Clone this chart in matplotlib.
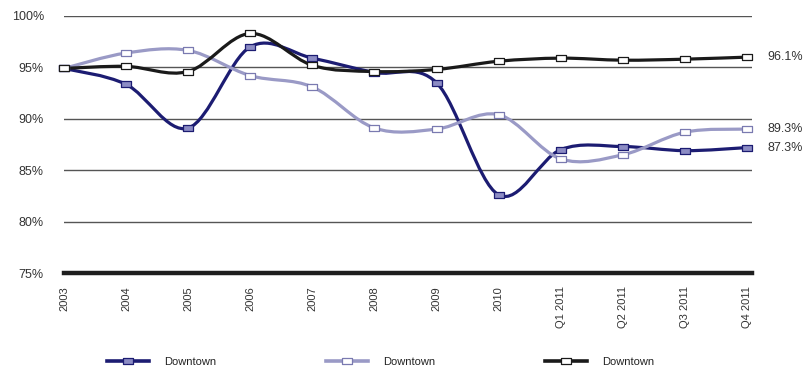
import numpy as np
import matplotlib
matplotlib.use("Agg")
import matplotlib.pyplot as plt
from matplotlib.path import Path
from matplotlib.patches import PathPatch
from matplotlib.lines import Line2D

plt.rcParams['font.family'] = ['Liberation Sans', 'DejaVu Sans']

periods = ['2003', '2004', '2005', '2006', '2007', '2008', '2009', '2010',
           'Q1 2011', 'Q2 2011', 'Q3 2011', 'Q4 2011']
navy_vals = [94.9, 93.35, 89.1, 97.0, 95.9, 94.5, 93.5, 82.6, 87.0, 87.3, 86.9, 87.2]
lilac_vals = [94.9, 96.4, 96.65, 94.2, 93.1, 89.1, 89.0, 90.4, 86.1, 86.5, 88.7, 89.0]
black_vals = [94.9, 95.1, 94.6, 98.3, 95.2, 94.6, 94.8, 95.6, 95.9, 95.7, 95.8, 96.0]
end_labels = ['87.3%', '89.3%', '96.1%']
series_names = ['Downtown', 'Downtown', 'Downtown']
yticks = [75, 80, 85, 90, 95, 100]


def smooth_path(x, y):
    # Catmull-Rom style bezier, like the spreadsheet "smoothed line"
    pts = np.column_stack([x, y]).astype(float)
    p = np.vstack([pts[0], pts, pts[-1]])
    verts = [tuple(pts[0])]
    codes = [Path.MOVETO]
    for i in range(1, len(p) - 2):
        c1 = p[i] + (p[i + 1] - p[i - 1]) / 6.0
        c2 = p[i + 1] - (p[i + 2] - p[i]) / 6.0
        verts += [tuple(c1), tuple(c2), tuple(p[i + 1])]
        codes += [Path.CURVE4] * 3
    return Path(verts, codes)


# flat rectangular marker (wider than tall)
rect = Path([(-1, -0.62), (1, -0.62), (1, 0.62), (-1, 0.62), (-1, -0.62)],
            [Path.MOVETO, Path.LINETO, Path.LINETO, Path.LINETO, Path.CLOSEPOLY])

fig = plt.figure(figsize=(8.05, 3.71), dpi=100)
ax = fig.add_axes([64 / 805, 1 - 273 / 371, (752 - 64) / 805, (273 - 16) / 371])

x = np.arange(len(periods))
ax.set_xlim(0, 11.08)
ax.set_ylim(75, 100)

for yv in yticks[1:]:
    ax.axhline(yv, color='#555555', lw=1.0, zorder=1)
ax.axhline(75, color='#1e1e1e', lw=3.2, zorder=1, clip_on=False)

styles = [
    (navy_vals, '#1c1c72', '#8c8cc4', '#1c1c72'),
    (lilac_vals, '#9a9ac6', 'white', '#7a7ab0'),
    (black_vals, '#1a1a1a', 'white', '#1a1a1a'),
]
handles = []
for vals, lc, mfc, mec in styles:
    patch = PathPatch(smooth_path(x, vals), facecolor='none', edgecolor=lc,
                      lw=2.3, zorder=3, clip_on=False, capstyle='round')
    ax.add_patch(patch)
    ax.plot(x, vals, ls='none', marker=rect, ms=7, mfc=mfc, mec=mec,
            mew=0.9, zorder=4, clip_on=False)
    handles.append(Line2D([], [], color=lc, lw=2.6, marker=rect, ms=7,
                          mfc=mfc, mec=mec, mew=0.9))

# end-of-line value labels
for vals, lab in zip([navy_vals, lilac_vals, black_vals], end_labels):
    ax.annotate(lab, xy=(x[-1], vals[-1]), xytext=(14.5, 0),
                textcoords='offset points', va='center', ha='left',
                fontsize=9, color='#333333')

ax.set_yticks(yticks)
ax.set_yticklabels([f'{v}%' for v in yticks], fontsize=9, color='#333333')
ax.set_xticks(x)
ax.set_xticklabels(periods, rotation=90, fontsize=8, color='#333333')
ax.tick_params(axis='y', length=0, pad=14.5)
ax.tick_params(axis='x', length=0, pad=9.5)
for s in ax.spines.values():
    s.set_visible(False)

fig.legend(handles, series_names, loc='center left', ncol=3,
           bbox_to_anchor=(107 / 805, 1 - 362 / 371), frameon=False,
           fontsize=8, handlelength=3.8, handletextpad=1.35,
           columnspacing=9.85, borderpad=0, borderaxespad=0,
           labelcolor='#222222')

fig.savefig('out.png', dpi=100)
